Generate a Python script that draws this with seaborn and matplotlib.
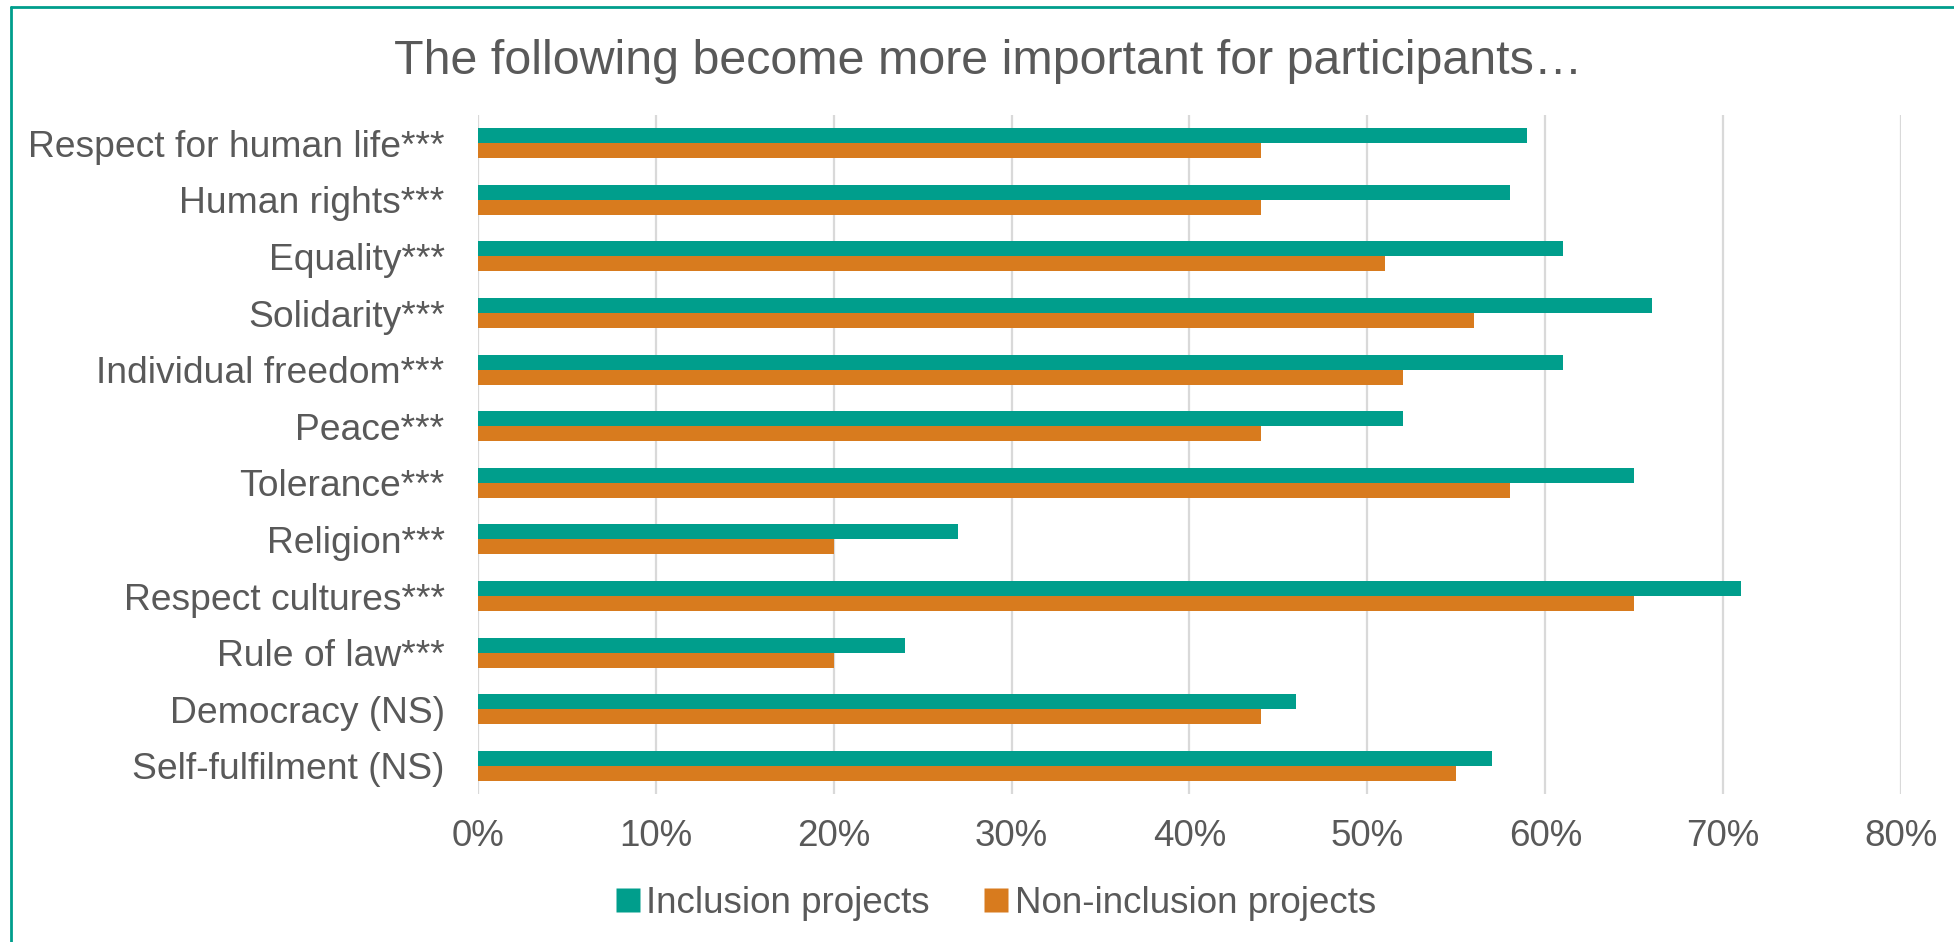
import pandas as pd
import matplotlib.pyplot as plt
import matplotlib.ticker as mticker
from matplotlib.lines import Line2D
import seaborn as sns

# ── Data ───────────────────────────────────────────────────────────────────
categories = [
    "Respect for human life***", "Human rights***", "Equality***",
    "Solidarity***", "Individual freedom***", "Peace***", "Tolerance***",
    "Religion***", "Respect cultures***", "Rule of law***",
    "Democracy (NS)", "Self-fulfilment (NS)",
]
inclusion     = [59, 58, 61, 66, 61, 52, 65, 27, 71, 24, 46, 57]
non_inclusion = [44, 44, 51, 56, 52, 44, 58, 20, 65, 20, 44, 55]
series_names  = ["Inclusion projects", "Non-inclusion projects"]

TEAL   = "#009E8C"
ORANGE = "#D87B1E"
TEXT   = "#595959"
GRID   = "#D9D9D9"

df = pd.DataFrame({
    "category": categories * 2,
    "value": [v / 100 for v in inclusion + non_inclusion],
    "series": [series_names[0]] * len(categories) + [series_names[1]] * len(categories),
})

# ── Plot ───────────────────────────────────────────────────────────────────
sns.set_style("white")
plt.rcParams["font.family"] = ["Liberation Sans", "DejaVu Sans"]

fig = plt.figure(figsize=(19.54, 9.42), dpi=100)
ax = fig.add_axes([0.2446, 0.157, 0.7283, 0.721])

sns.barplot(
    data=df, y="category", x="value", hue="series", orient="h",
    order=categories, hue_order=series_names,
    palette=[TEAL, ORANGE], width=0.53, ax=ax, legend=False,
    saturation=1, edgecolor="none",
)

ax.set_xlim(0, 0.8)
ax.xaxis.set_major_locator(mticker.MultipleLocator(0.1))
ax.xaxis.set_major_formatter(mticker.FuncFormatter(lambda v, _: f"{v*100:.0f}%"))
ax.grid(axis="x", color=GRID, linewidth=1.6, zorder=0)
ax.set_axisbelow(True)
for spine in ax.spines.values():
    spine.set_visible(False)
ax.set_xlabel("")
ax.set_ylabel("")
ax.tick_params(axis="x", length=0, pad=18, labelsize=26.5, labelcolor=TEXT)
ax.tick_params(axis="y", length=0, pad=24, labelsize=26.8, labelcolor=TEXT)

fig.text(0.5056, 0.935, "The following become more important for participants…",
         ha="center", va="center", fontsize=34.8, color=TEXT)

handles = [Line2D([], [], marker="s", linestyle="none", markersize=17,
                  markerfacecolor=c, markeredgecolor="none") for c in (TEAL, ORANGE)]
fig.legend(handles, series_names, loc="center", bbox_to_anchor=(0.509, 0.041),
           ncol=2, frameon=False, fontsize=26.5, labelcolor=TEXT,
           handletextpad=0.1, columnspacing=1.4, handlelength=0.8)

# partial teal frame (left and top edges only)
fig.add_artist(Line2D([11 / 1954, 11 / 1954], [0, 1 - 7 / 942],
                      transform=fig.transFigure, color=TEAL, linewidth=2))
fig.add_artist(Line2D([11 / 1954, 1], [1 - 7 / 942, 1 - 7 / 942],
                      transform=fig.transFigure, color=TEAL, linewidth=2))

fig.savefig("out.png", dpi=100, facecolor="white")
